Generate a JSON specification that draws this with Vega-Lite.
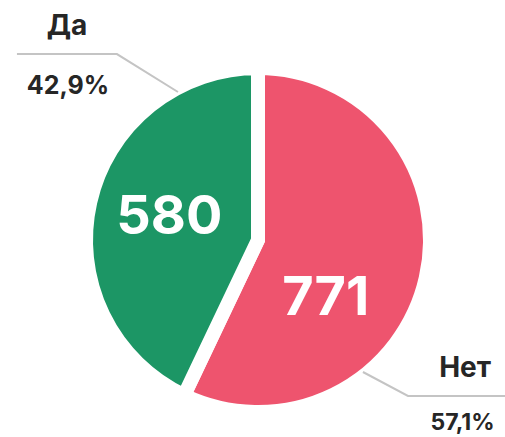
{
  "$schema": "https://vega.github.io/schema/vega-lite/v6.json",
  "width": 494,
  "height": 394,
  "autosize": {"type": "none"},
  "padding": {"left": 11, "top": 43, "right": 0, "bottom": 0},
  "config": {"view": {"stroke": null}, "text": {"font": "Inter"}},
  "data": {
    "values": [
      {"cat": "Нет", "value": 771, "pct": "57,1%", "ord": 1},
      {"cat": "Да", "value": 580, "pct": "42,9%", "ord": 2}
    ]
  },
  "layer": [
    {
      "mark": {"type": "arc", "outerRadius": 172, "stroke": "white", "strokeWidth": 14},
      "encoding": {
        "theta": {"field": "value", "type": "quantitative", "stack": true},
        "order": {"field": "ord", "type": "quantitative"},
        "color": {"field": "cat", "type": "nominal", "scale": {"domain": ["Нет", "Да"], "range": ["#ee546e", "#1c9665"]}, "legend": null}
      }
    },
    {
      "mark": {"type": "text", "radius": 92, "dx": 1, "dy": -2, "fontSize": 54, "fontWeight": "bold", "align": "center", "baseline": "middle"},
      "encoding": {
        "theta": {"field": "value", "type": "quantitative", "stack": true},
        "order": {"field": "ord", "type": "quantitative"},
        "detail": {"field": "cat"},
        "color": {"value": "white"},
        "text": {"condition": {"test": "datum.cat === 'Да'", "field": "value", "type": "nominal"}, "value": ""}
      }
    },
    {
      "mark": {"type": "text", "radius": 92, "dx": -22, "dy": 39, "fontSize": 54, "fontWeight": "bold", "align": "center", "baseline": "middle"},
      "encoding": {
        "theta": {"field": "value", "type": "quantitative", "stack": true},
        "order": {"field": "ord", "type": "quantitative"},
        "detail": {"field": "cat"},
        "color": {"value": "white"},
        "text": {"condition": {"test": "datum.cat === 'Нет'", "field": "value", "type": "nominal"}, "value": ""}
      }
    },
    {
      "mark": {"type": "text", "radius": 180, "dx": -15.5, "dy": -173.5, "fontSize": 28, "fontWeight": "bold", "align": "center", "baseline": "middle"},
      "encoding": {
        "theta": {"field": "value", "type": "quantitative", "stack": true},
        "order": {"field": "ord", "type": "quantitative"},
        "detail": {"field": "cat"},
        "color": {"value": "#262626"},
        "text": {"condition": {"test": "datum.cat === 'Да'", "field": "cat", "type": "nominal"}, "value": ""}
      }
    },
    {
      "mark": {"type": "text", "radius": 180, "dx": -14.5, "dy": -114.6, "fontSize": 25, "fontWeight": "bold", "align": "center", "baseline": "middle"},
      "encoding": {
        "theta": {"field": "value", "type": "quantitative", "stack": true},
        "order": {"field": "ord", "type": "quantitative"},
        "detail": {"field": "cat"},
        "color": {"value": "#262626"},
        "text": {"condition": {"test": "datum.cat === 'Да'", "field": "pct", "type": "nominal"}, "value": ""}
      }
    },
    {
      "mark": {"type": "text", "radius": 180, "dx": 31.5, "dy": 89.7, "fontSize": 28, "fontWeight": "bold", "align": "center", "baseline": "middle"},
      "encoding": {
        "theta": {"field": "value", "type": "quantitative", "stack": true},
        "order": {"field": "ord", "type": "quantitative"},
        "detail": {"field": "cat"},
        "color": {"value": "#262626"},
        "text": {"condition": {"test": "datum.cat === 'Нет'", "field": "cat", "type": "nominal"}, "value": ""}
      }
    },
    {
      "mark": {"type": "text", "radius": 180, "dx": 29, "dy": 143.5, "fontSize": 23, "fontWeight": "bold", "align": "center", "baseline": "middle"},
      "encoding": {
        "theta": {"field": "value", "type": "quantitative", "stack": true},
        "order": {"field": "ord", "type": "quantitative"},
        "detail": {"field": "cat"},
        "color": {"value": "#262626"},
        "text": {"condition": {"test": "datum.cat === 'Нет'", "field": "pct", "type": "nominal"}, "value": ""}
      }
    },
    {
      "data": {
        "values": [
          {"cat": "Да", "k": 0, "px": -1.461, "py": 1.127},
          {"cat": "Да", "k": 1, "px": -0.855, "py": 1.127},
          {"cat": "Да", "k": 2, "px": -0.485, "py": 0.897},
          {"cat": "Нет", "k": 0, "px": 0.636, "py": -0.8},
          {"cat": "Нет", "k": 1, "px": 0.909, "py": -0.945},
          {"cat": "Нет", "k": 2, "px": 1.497, "py": -0.945}
        ]
      },
      "mark": {"type": "line", "color": "#c4c4c4", "strokeWidth": 2},
      "encoding": {
        "x": {"field": "px", "type": "quantitative", "scale": {"domain": [-1.497, 1.497], "nice": false, "zero": false}, "axis": null},
        "y": {"field": "py", "type": "quantitative", "scale": {"domain": [-1.194, 1.194], "nice": false, "zero": false}, "axis": null},
        "detail": {"field": "cat"},
        "order": {"field": "k", "type": "quantitative"}
      }
    }
  ]
}
